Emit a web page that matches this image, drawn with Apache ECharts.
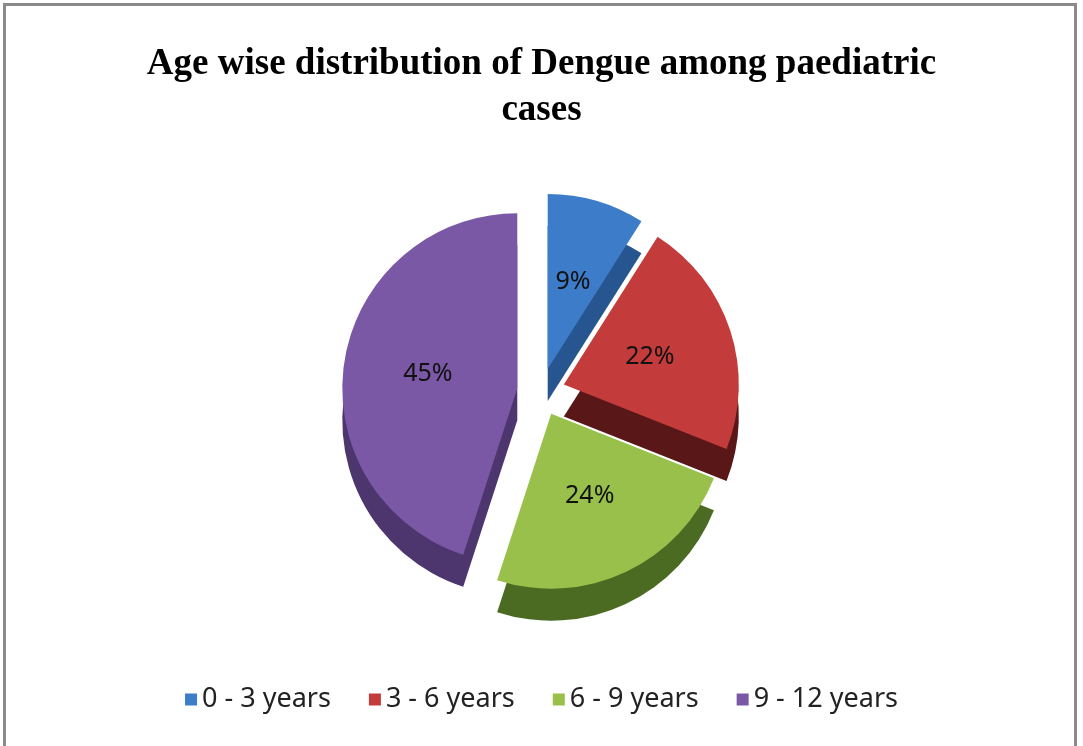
<!DOCTYPE html>
<html>
<head>
<meta charset="utf-8">
<script src="https://cdn.jsdelivr.net/npm/echarts@6/dist/echarts.min.js"></script>
<style>
  html, body { margin: 0; padding: 0; background: #fff; }
  #frame { position: absolute; left: 3px; top: 3px; width: 1074px; height: 760px; border: 3px solid #8a8a8a; box-sizing: border-box; }
  #main { position: absolute; left: 0; top: 0; width: 1083px; height: 746px; }
</style>
</head>
<body>
<div id="frame"></div>
<div id="main"></div>
<script>
// data
const categories = ["0 - 3 years", "3 - 6 years", "6 - 9 years", "9 - 12 years"];
const shares = [9, 22, 24, 45];
// top face and side colours
const topColors = ["#3d7cc9", "#c43b3b", "#98c04a", "#7a58a6"];
const sideColors = ["#27558f", "#5a1717", "#4b6b23", "#4d366e"];

const chart = echarts.init(document.getElementById("main"));

function makeData(colors) {
  return categories.map(function (name, i) {
    return {
      name: name,
      value: shares[i],
      selected: true,
      itemStyle: { color: colors[i], borderWidth: 0 }
    };
  });
}

chart.setOption({
  animation: false,
  title: {
    text: "Age wise distribution of Dengue among paediatric\ncases",
    left: "center",
    top: 36,
    textStyle: {
      fontFamily: "Liberation Serif",
      fontWeight: "bold",
      fontSize: 37,
      lineHeight: 46,
      color: "#000"
    }
  },
  legend: {
    bottom: 28,
    left: "center",
    icon: "rect",
    itemWidth: 12,
    itemHeight: 12,
    itemGap: 38,
    selectedMode: false,
    textStyle: { fontFamily: "Noto Sans", fontSize: 27, color: "#222" },
    data: categories
  },
  series: [
    {
      name: "Age group",
      type: "pie",
      center: [541, 392],
      radius: 175,
      startAngle: 90,
      clockwise: true,
      selectedMode: "multiple",
      selectedOffset: 24,
      z: 3,
      label: {
        show: true,
        position: "inside",
        formatter: "{c}%",
        fontFamily: "Noto Sans",
        fontSize: 25,
        color: "#111"
      },
      labelLine: { show: false },
      data: makeData(topColors)
    },
    {
      // depth layer drawn below the top faces
      name: "side",
      type: "pie",
      silent: true,
      center: [541, 424],
      radius: 175,
      startAngle: 90,
      clockwise: true,
      selectedMode: "multiple",
      selectedOffset: 24,
      label: { show: false },
      labelLine: { show: false },
      z: 1,
      data: makeData(sideColors)
    }
  ]
});

window.addEventListener("resize", function () {
  chart.resize();
});
</script>
</body>
</html>
